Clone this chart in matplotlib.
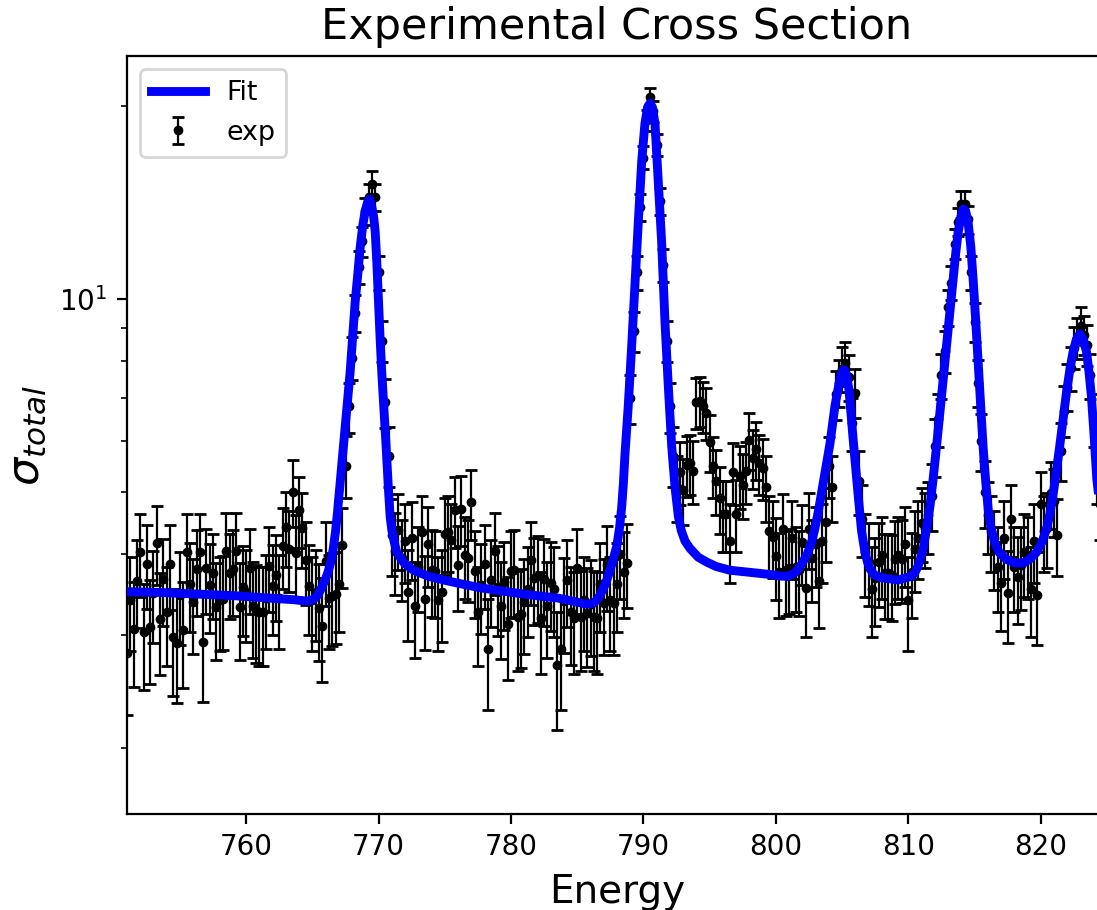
import matplotlib
matplotlib.use('Agg')
import matplotlib.pyplot as plt

# ---- experimental points ----
energy = [
    751.0, 751.25, 751.5, 751.75, 752.0, 752.25, 752.5, 752.75,
    753.0, 753.25, 753.5, 753.75, 754.0, 754.25, 754.5, 754.75,
    755.0, 755.25, 755.5, 755.75, 756.0, 756.25, 756.5, 756.75,
    757.0, 757.25, 757.5, 757.75, 758.0, 758.25, 758.5, 758.75,
    759.0, 759.25, 759.5, 759.75, 760.0, 760.25, 760.5, 760.75,
    761.0, 761.25, 761.5, 761.75, 762.0, 762.25, 762.5, 762.75,
    763.0, 763.25, 763.5, 763.75, 764.0, 764.25, 764.5, 764.75,
    765.0, 765.25, 765.5, 765.75, 766.0, 766.25, 766.5, 766.75,
    767.0, 767.25, 767.5, 767.75, 768.0, 768.25, 768.5, 768.75,
    769.0, 769.25, 769.5, 769.75, 770.0, 770.25, 770.5, 770.75,
    771.0, 771.25, 771.5, 771.75, 772.0, 772.25, 772.5, 772.75,
    773.0, 773.25, 773.5, 773.75, 774.0, 774.25, 774.5, 774.75,
    775.0, 775.25, 775.5, 775.75, 776.0, 776.25, 776.5, 776.75,
    777.0, 777.25, 777.5, 777.75, 778.0, 778.25, 778.5, 778.75,
    779.0, 779.25, 779.5, 779.75, 780.0, 780.25, 780.5, 780.75,
    781.0, 781.25, 781.5, 781.75, 782.0, 782.25, 782.5, 782.75,
    783.0, 783.25, 783.5, 783.75, 784.0, 784.25, 784.5, 784.75,
    785.0, 785.25, 785.5, 785.75, 786.0, 786.25, 786.5, 786.75,
    787.0, 787.25, 787.5, 787.75, 788.0, 788.25, 788.5, 788.75,
    789.0, 789.25, 789.5, 789.75, 790.0, 790.25, 790.5, 790.75,
    791.0, 791.25, 791.5, 791.75, 792.0, 792.25, 792.5, 792.75,
    793.0, 793.25, 793.5, 793.75, 794.0, 794.25, 794.5, 794.75,
    795.0, 795.25, 795.5, 795.75, 796.0, 796.25, 796.5, 796.75,
    797.0, 797.25, 797.5, 797.75, 798.0, 798.25, 798.5, 798.75,
    799.0, 799.25, 799.5, 799.75, 800.0, 800.25, 800.5, 800.75,
    801.0, 801.25, 801.5, 801.75, 802.0, 802.25, 802.5, 802.75,
    803.0, 803.25, 803.5, 803.75, 804.0, 804.25, 804.5, 804.75,
    805.0, 805.25, 805.5, 805.75, 806.0, 806.25, 806.5, 806.75,
    807.0, 807.25, 807.5, 807.75, 808.0, 808.25, 808.5, 808.75,
    809.0, 809.25, 809.5, 809.75, 810.0, 810.25, 810.5, 810.75,
    811.0, 811.25, 811.5, 811.75, 812.0, 812.25, 812.5, 812.75,
    813.0, 813.25, 813.5, 813.75, 814.0, 814.25, 814.5, 814.75,
    815.0, 815.25, 815.5, 815.75, 816.0, 816.25, 816.5, 816.75,
    817.0, 817.25, 817.5, 817.75, 818.0, 818.25, 818.5, 818.75,
    819.0, 819.25, 819.5, 819.75, 820.0, 820.25, 820.5, 820.75,
    821.0, 821.25, 821.5, 821.75, 822.0, 822.25, 822.5, 822.75,
    823.0, 823.25, 823.5, 823.75, 824.0, 824.25, 824.5, 824.75,
    825.0,
]

sigma = [
    # 751.0 - 767.0
    2.81, 3.40, 3.06, 3.64, 4.03, 3.03, 3.87, 3.08, 3.48, 4.17,
    3.17, 3.66, 3.25, 3.86, 2.97, 2.91, 3.46, 3.05, 4.04, 3.60,
    3.37, 3.79, 4.04, 2.92, 3.81, 3.59, 3.74, 3.31, 3.40, 3.41,
    4.05, 3.74, 3.79, 4.05, 3.31, 3.56, 3.49, 3.81, 3.33, 3.28,
    3.25, 3.25, 3.42, 3.84, 3.57, 3.72, 3.42, 4.13, 4.42, 4.08,
    5.01, 4.02, 4.69, 4.40, 3.92, 3.57, 3.40, 3.50, 3.30, 3.10,
    3.91, 3.42, 3.45, 3.47, 3.60,
    # 767.25 - 770.75
    4.14, 5.50, 6.80, 8.10, 9.50, 11.20, 12.30, 13.70, 14.40, 15.10,
    14.40, 11.00, 8.60, 6.90, 5.70,
    # 771.0 - 788.75
    4.29, 4.05, 4.37, 3.95, 4.20, 3.50, 4.24, 3.33, 3.83, 4.34,
    3.41, 4.15, 3.78, 3.77, 3.40, 3.49, 4.30, 4.34, 4.21, 4.69,
    3.85, 4.71, 3.99, 3.95, 4.82, 3.77, 3.25, 3.58, 3.87, 2.85,
    3.65, 4.05, 3.56, 3.32, 3.62, 3.12, 3.77, 3.78, 3.20, 3.23,
    3.37, 3.54, 3.92, 3.68, 3.70, 3.18, 3.66, 3.33, 3.61, 3.54,
    2.69, 2.85, 3.38, 3.65, 3.26, 3.18, 3.81, 3.20, 3.40, 3.24,
    3.35, 3.20, 3.18, 3.60, 3.36, 3.85, 3.40, 3.36, 3.60, 4.00,
    3.76, 3.88,
    # 789.0 - 792.5
    7.00, 8.90, 11.00, 13.90, 16.60, 19.00, 20.60, 19.60, 17.40, 14.20,
    11.30, 8.60, 6.80, 5.70, 5.10,
    # 792.75 - 803.25
    5.38, 5.04, 5.51, 5.55, 5.40, 6.90, 6.93, 6.80, 6.65, 5.99,
    5.50, 5.21, 4.89, 4.62, 4.62, 4.20, 5.37, 4.63, 5.30, 5.14,
    5.39, 6.03, 5.66, 5.83, 5.55, 5.46, 5.09, 4.35, 4.26, 3.98,
    3.75, 4.38, 3.78, 3.81, 4.25, 3.83, 3.78, 4.18, 3.55, 4.39,
    3.95, 4.15, 3.64,
    # 803.5 - 807.0
    4.20, 4.49, 5.50, 5.10, 7.10, 7.40, 7.79, 7.95, 7.55, 6.40,
    7.15, 5.20, 4.55, 4.03, 3.90,
    # 807.25 - 811.0
    3.54, 3.67, 3.89, 3.99, 3.74, 3.74, 3.72, 3.93, 3.99, 3.94,
    4.15, 3.40, 3.75, 4.08, 4.25, 4.48,
    # 811.25 - 816.25
    4.40, 4.60, 4.94, 5.90, 6.50, 7.60, 8.30, 9.70, 10.60, 12.20,
    13.20, 14.06, 14.06, 13.30, 11.00, 9.20, 7.40, 6.00, 5.00, 4.60,
    4.35,
    # 816.5 - 821.25
    4.10, 3.83, 3.61, 4.25, 3.48, 4.55, 3.83, 3.69, 3.85, 4.03,
    3.99, 3.54, 4.20, 3.46, 4.79, 4.35, 4.40, 4.98, 4.85, 4.29,
    # 821.5 - 825.0
    5.80, 6.70, 7.30, 7.80, 8.40, 8.70, 9.09, 8.80, 8.48, 7.60,
    6.50, 5.40, 4.80, 4.40, 4.20,
]

sigma_err = [
    0.56, 0.57, 0.57, 0.57, 0.59, 0.57, 0.58, 0.57, 0.57, 0.59,
    0.57, 0.57, 0.57, 0.58, 0.56, 0.56, 0.57, 0.57, 0.59, 0.57,
    0.57, 0.58, 0.59, 0.56, 0.58, 0.57, 0.57, 0.57, 0.57, 0.57,
    0.59, 0.57, 0.58, 0.59, 0.57, 0.57, 0.57, 0.58, 0.57, 0.57,
    0.57, 0.57, 0.57, 0.58, 0.57, 0.57, 0.57, 0.59, 0.59, 0.59,
    0.60, 0.59, 0.59, 0.59, 0.58, 0.57, 0.57, 0.57, 0.57, 0.57,
    0.58, 0.57, 0.57, 0.57, 0.57,
    0.59, 0.61, 0.61, 0.63, 0.63, 0.66, 0.66, 0.67, 0.68, 0.70,
    0.68, 0.66, 0.63, 0.61, 0.61,
    0.59, 0.59, 0.59, 0.57, 0.59, 0.57, 0.59, 0.57, 0.58, 0.59,
    0.57, 0.59, 0.58, 0.58, 0.57, 0.57, 0.59, 0.59, 0.59, 0.59,
    0.58, 0.59, 0.58, 0.58, 0.60, 0.58, 0.57, 0.57, 0.58, 0.56,
    0.57, 0.59, 0.57, 0.57, 0.57, 0.57, 0.58, 0.58, 0.57, 0.57,
    0.57, 0.57, 0.58, 0.57, 0.57, 0.57, 0.57, 0.57, 0.57, 0.57,
    0.56, 0.56, 0.57, 0.57, 0.57, 0.57, 0.58, 0.57, 0.57, 0.57,
    0.57, 0.57, 0.57, 0.57, 0.57, 0.58, 0.57, 0.57, 0.57, 0.59,
    0.58, 0.58,
    0.62, 0.63, 0.66, 0.67, 0.69, 0.71, 0.72, 0.71, 0.70, 0.68,
    0.66, 0.63, 0.61, 0.61, 0.60,
    0.60, 0.60, 0.60, 0.60, 0.60, 0.62, 0.62, 0.62, 0.62, 0.61,
    0.60, 0.60, 0.59, 0.59, 0.59, 0.59, 0.60, 0.59, 0.60, 0.60,
    0.60, 0.61, 0.60, 0.61, 0.60, 0.60, 0.60, 0.59, 0.59, 0.58,
    0.57, 0.59, 0.57, 0.58, 0.59, 0.58, 0.57, 0.59, 0.57, 0.59,
    0.58, 0.59, 0.57,
    0.59, 0.59, 0.60, 0.60, 0.62, 0.62, 0.62, 0.62, 0.62, 0.61,
    0.62, 0.60, 0.59, 0.59, 0.58,
    0.57, 0.57, 0.58, 0.58, 0.57, 0.57, 0.57, 0.58, 0.58, 0.58,
    0.59, 0.57, 0.57, 0.59, 0.59, 0.59,
    0.59, 0.59, 0.59, 0.61, 0.61, 0.62, 0.63, 0.64, 0.65, 0.66,
    0.67, 0.68, 0.68, 0.67, 0.66, 0.64, 0.62, 0.61, 0.60, 0.59,
    0.59,
    0.58, 0.58, 0.57, 0.59, 0.57, 0.59, 0.58, 0.57, 0.57, 0.59,
    0.58, 0.57, 0.59, 0.57, 0.59, 0.59, 0.59, 0.59, 0.59, 0.59,
    0.60, 0.61, 0.62, 0.62, 0.63, 0.63, 0.61, 0.62, 0.62, 0.62,
    0.61, 0.60, 0.59, 0.59, 0.59,
]

# ---- fitted curve ----
fit_energy = [
    751.0, 753.58, 756.33, 759.08, 761.83, 763.67, 764.2, 764.55, 764.85, 765.1,
    765.32, 765.52, 765.72, 765.96, 766.15, 766.33, 766.48, 766.60, 766.75, 766.88,
    767.0, 767.15, 767.34, 767.61, 767.85, 768.07, 768.23, 768.44, 768.60, 768.80,
    768.98, 769.17, 769.31, 769.49, 769.62, 769.74, 769.86, 769.99, 770.11, 770.24,
    770.41, 770.56, 770.73, 770.87, 771.0, 771.10, 771.37, 771.92, 772.63, 773.75,
    775.15, 776.51, 777.66, 779.26, 781.43, 783.57, 784.76, 785.58, 786.0, 786.3,
    786.59, 786.85, 787.05, 787.25, 787.47, 787.7, 787.98, 788.18, 788.35, 788.48,
    788.60, 788.85, 789.10, 789.36, 789.61, 789.87, 790.11, 790.31, 790.49, 790.67,
    790.87, 791.11, 791.37, 791.63, 791.87, 792.13, 792.38, 792.63, 792.85, 793.13,
    793.5, 794.14, 794.8, 795.5, 796.53, 797.6, 798.66, 799.7, 800.4, 800.9,
    801.2, 801.45, 801.7, 801.93, 802.15, 802.36, 802.55, 802.69, 802.9, 803.19,
    803.45, 803.69, 804.08, 804.46, 804.83, 805.0, 805.15, 805.3, 805.51, 805.83,
    806.17, 806.46, 806.7, 806.9, 807.1, 807.41, 807.98, 809.23, 810.24, 810.5,
    810.72, 810.92, 811.12, 811.37, 811.63, 811.87, 812.13, 812.38, 812.64, 812.88,
    813.14, 813.38, 813.58, 813.76, 813.96, 814.14, 814.33, 814.51, 814.71, 814.89,
    815.08, 815.27, 815.46, 815.64, 815.84, 816.03, 816.26, 816.53, 816.85, 817.40,
    818.05, 818.66, 819.15, 819.68, 820.06, 820.43, 820.68, 820.92, 821.18, 821.43,
    821.69, 821.94, 822.19, 822.44, 822.69, 822.94, 823.20, 823.45, 823.64, 823.82,
    824.02, 824.23, 824.44, 824.65, 825.0,
]

fit_sigma = [
    3.50, 3.49, 3.47, 3.45, 3.42, 3.40, 3.39, 3.385, 3.39, 3.41,
    3.44, 3.49, 3.56, 3.65, 3.74, 3.85, 3.97, 4.12, 4.35, 4.62,
    4.92, 5.30, 5.90, 6.80, 7.70, 8.90, 9.90, 11.00, 12.00, 13.00,
    13.70, 14.15, 14.30, 13.90, 13.45, 12.75, 11.45, 9.95, 8.70, 7.67,
    6.70, 5.92, 5.10, 4.58, 4.36, 4.25, 4.03, 3.88, 3.78, 3.70,
    3.64, 3.59, 3.55, 3.51, 3.46, 3.42, 3.38, 3.35, 3.35, 3.37,
    3.42, 3.50, 3.57, 3.66, 3.78, 3.92, 4.12, 4.38, 4.73, 5.15,
    5.72, 6.82, 8.39, 10.59, 13.19, 16.44, 18.76, 19.90, 20.18, 19.90,
    18.76, 15.28, 12.27, 9.14, 7.34, 5.90, 5.09, 4.59, 4.36, 4.20,
    4.09, 3.96, 3.89, 3.83, 3.78, 3.76, 3.74, 3.72, 3.70, 3.70,
    3.72, 3.75, 3.80, 3.86, 3.93, 4.00, 4.10, 4.18, 4.35, 4.65,
    5.00, 5.35, 5.95, 6.82, 7.50, 7.70, 7.76, 7.65, 7.24, 6.05,
    5.05, 4.36, 4.06, 3.90, 3.80, 3.72, 3.68, 3.65, 3.70, 3.75,
    3.83, 3.94, 4.08, 4.38, 4.75, 5.24, 5.90, 6.65, 7.55, 8.46,
    9.60, 10.74, 11.80, 12.70, 13.40, 13.81, 13.70, 13.17, 12.10, 10.74,
    9.30, 7.97, 6.85, 5.90, 5.20, 4.70, 4.38, 4.17, 4.03, 3.93,
    3.88, 3.88, 3.93, 4.03, 4.17, 4.38, 4.62, 4.94, 5.40, 5.90,
    6.50, 7.15, 7.75, 8.28, 8.65, 8.82, 8.65, 8.28, 7.70, 7.06,
    6.15, 5.24, 4.80, 4.50, 4.20,
]

DPI = 200
fig = plt.figure(figsize=(1097 / DPI, 910 / DPI), dpi=DPI)
ax = fig.add_axes([127 / 1097, 96 / 910, 980 / 1097, 758 / 910])

ax.errorbar(energy, sigma, yerr=sigma_err, fmt='.', color='k', ms=5,
            elinewidth=0.8, capsize=2, capthick=1.0, label='exp', zorder=2)
ax.plot(fit_energy, fit_sigma, color='blue', lw=3.2, label='Fit', zorder=3,
        solid_joinstyle='round')

ax.set_yscale('log')
ax.set_xlim(751.0, 825.0)
ax.set_ylim(1.577, 23.9)
ax.set_xlabel('Energy', fontsize=14)
ax.set_ylabel(r'$\sigma_{total}$', fontsize=16)
ax.set_title('Experimental Cross Section', fontsize=15.5)
ax.legend(loc='upper left', fontsize=9.7)

fig.savefig('out.png', dpi=DPI)
